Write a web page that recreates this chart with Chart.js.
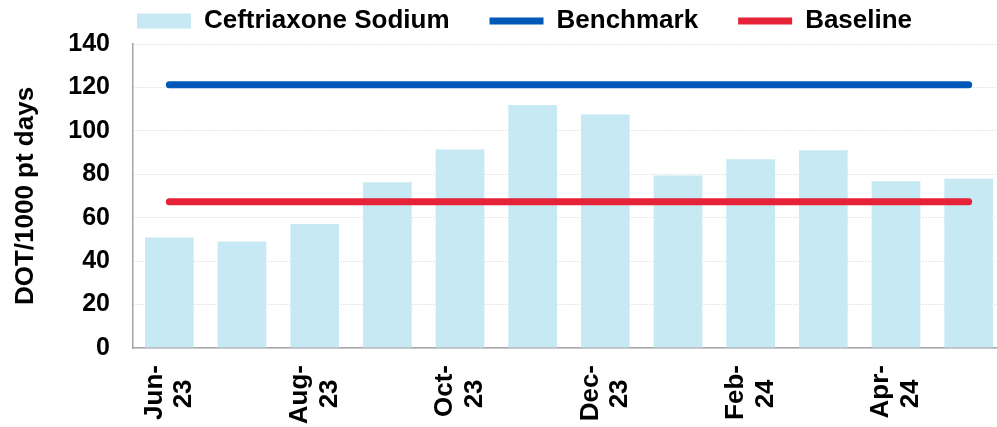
<!DOCTYPE html>
<html>
<head>
<meta charset="utf-8">
<script src="https://cdn.jsdelivr.net/npm/chart.js@4.4.1/dist/chart.umd.min.js"></script>
<style>
  html, body { margin: 0; padding: 0; background: #fff; overflow: hidden; }
  #wrap { width: 1005px; height: 427px; }
</style>
</head>
<body>
<div id="wrap"><canvas id="myChart" width="1005" height="427"></canvas></div>
<script>
const months = ['Jun-23', 'Jul-23', 'Aug-23', 'Sep-23', 'Oct-23', 'Nov-23',
                'Dec-23', 'Jan-24', 'Feb-24', 'Mar-24', 'Apr-24', 'May-24'];
const shownLabels = ['Jun-23', 'Aug-23', 'Oct-23', 'Dec-23', 'Feb-24', 'Apr-24'];
const ceftriaxone = [50.9, 49.1, 57.1, 76.3, 91.4, 111.9, 107.5, 79.4, 86.9, 91.1, 76.8, 78.0];
const benchmark = [121.2, 121.2, 121.2, 121.2, 121.2, 121.2, 121.2, 121.2, 121.2, 121.2, 121.2, 121.2];
const baseline = [67.4, 67.4, 67.4, 67.4, 67.4, 67.4, 67.4, 67.4, 67.4, 67.4, 67.4, 67.4];
const yMin = 0;
const yMax = 140;
const yStep = 20;

const fontFamily = "'Liberation Sans', Arial, sans-serif";

// nudge the legend so it sits where the original one does
const legendShift = {
  id: 'legendShift',
  afterLayout(chart) {
    chart.legend.left += 22;
    chart.legend.right += 22;
  }
};

function makeChart() {
  const ctx = document.getElementById('myChart');

  const myChart = new Chart(ctx, {
    type: 'bar',
    data: {
      labels: months,
      datasets: [{
        type: 'bar',
        label: 'Ceftriaxone Sodium',
        data: ceftriaxone,
        backgroundColor: '#C6E9F3',
        borderWidth: 0,
        barPercentage: 0.67,
        categoryPercentage: 1,
        pointStyle: 'rect',
        order: 1
      }, {
        type: 'line',
        label: 'Benchmark',
        data: benchmark,
        borderColor: '#0058B8',
        backgroundColor: '#0058B8',
        borderWidth: 7,
        borderCapStyle: 'round',
        pointRadius: 0,
        pointHoverRadius: 0,
        pointBorderWidth: 7,
        pointBorderColor: '#0058B8',
        pointStyle: 'line',
        order: 0
      }, {
        type: 'line',
        label: 'Baseline',
        data: baseline,
        borderColor: '#E52238',
        backgroundColor: '#E52238',
        borderWidth: 7,
        borderCapStyle: 'round',
        pointRadius: 0,
        pointHoverRadius: 0,
        pointBorderWidth: 7,
        pointBorderColor: '#E52238',
        pointStyle: 'line',
        order: 0
      }]
    },
    options: {
      responsive: false,
      animation: false,
      layout: {
        padding: { top: -32, left: 0, right: 0, bottom: 0 }
      },
      plugins: {
        legend: {
          position: 'top',
          align: 'center',
          labels: {
            usePointStyle: true,
            pointStyleWidth: 54,
            boxHeight: 15,
            padding: 40,
            color: '#000',
            font: { family: fontFamily, size: 26, weight: 'bold' },
            sort: (a, b) => a.datasetIndex - b.datasetIndex
          }
        },
        tooltip: { enabled: true }
      },
      scales: {
        x: {
          grid: { display: false, drawTicks: false },
          border: { display: true, color: '#A6A6A6', width: 1.5 },
          afterFit: function(scale) { scale.height = 79; },
          ticks: {
            autoSkip: false,
            maxRotation: 90,
            minRotation: 90,
            padding: 17,
            labelOffset: -15,
            color: '#000',
            font: { family: fontFamily, size: 26, weight: 'bold', lineHeight: 1.15 },
            callback: function(value) {
              const label = this.getLabelForValue(value);
              if (!shownLabels.includes(label)) return null;
              const parts = label.split('-');
              return [parts[0] + '-', parts[1] + '  '];
            }
          }
        },
        y: {
          min: yMin,
          max: yMax,
          afterFit: function(scale) { scale.width = 133; },
          grid: {
            color: '#CFCFCF',
            lineWidth: 1,
            drawTicks: false
          },
          border: { display: true, color: '#A6A6A6', width: 1.5, dash: [1, 2] },
          ticks: {
            stepSize: yStep,
            padding: 23,
            color: '#000',
            font: { family: fontFamily, size: 25, weight: 'bold' }
          },
          title: {
            display: true,
            text: 'DOT/1000 pt days',
            color: '#000',
            padding: { top: 10, bottom: 0 },
            font: { family: fontFamily, size: 26, weight: 'bold' }
          }
        }
      }
    },
    plugins: [legendShift]
  });
  return myChart;
}

makeChart();
</script>
</body>
</html>
